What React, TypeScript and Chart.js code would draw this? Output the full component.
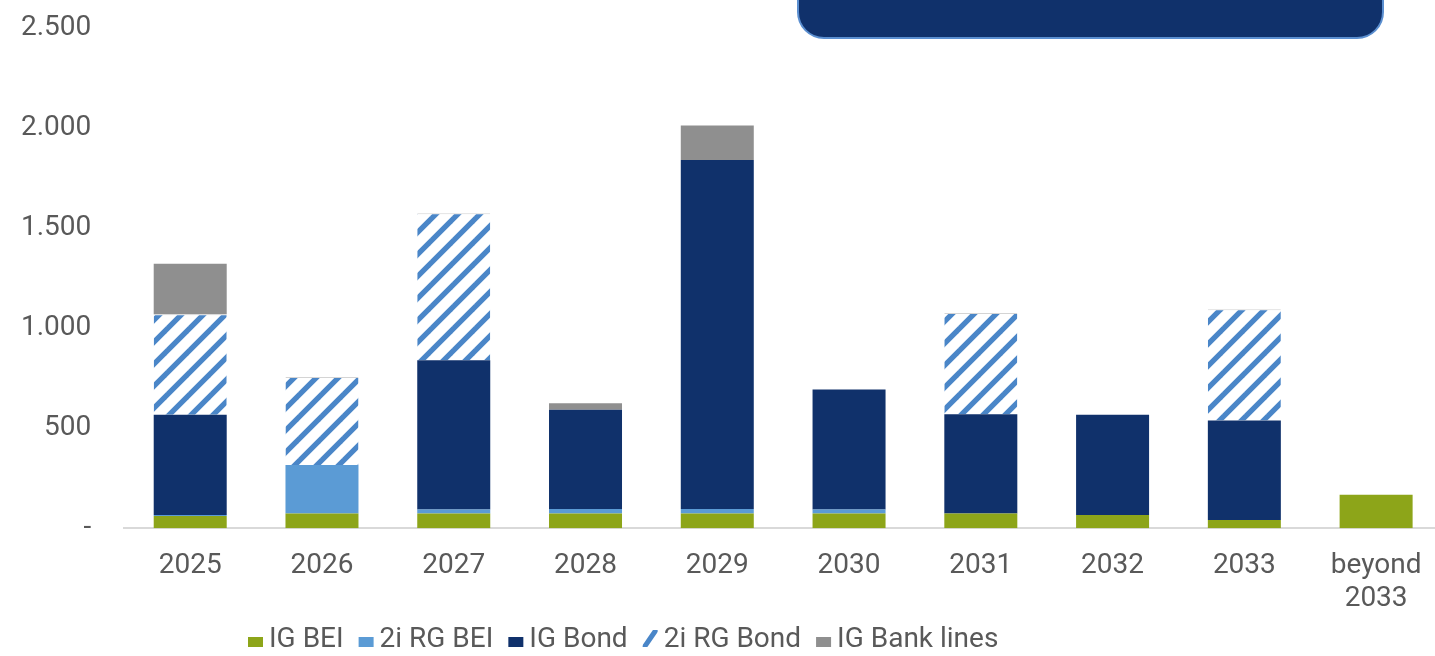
import React, { useEffect, useRef } from 'react';
import { Chart, registerables } from 'chart.js';

Chart.register(...registerables);

// ---- data ----
const categories: (string | string[])[] = ['2025', '2026', '2027', '2028', '2029', '2030', '2031', '2032', '2033', ['beyond', '2033']];
const igBei = [62, 74, 74, 74, 74, 74, 74, 66, 41, 167];
const rgBei = [5, 242, 20, 22, 22, 20, 0, 0, 0, 0];
const igBond = [500, 0, 746, 496, 1744, 599, 496, 501, 498, 0];
const rgBond = [502, 440, 734, 0, 0, 0, 505, 0, 555, 0];
const bankLines = [252, 0, 0, 33, 172, 0, 0, 0, 0, 0];
const seriesLabels = ['IG BEI', '2i RG BEI', 'IG Bond', '2i RG Bond', 'IG Bank lines'];
const yMax = 2500;
const yStep = 500;

const FONT = 'Roboto, "Noto Sans", sans-serif';
const TEXT = '#595959';
const HATCH_BLUE = '#4A86C8';

const SHIFT_X = 32; // canvas is placed this many px left of the page edge
const SHIFT_Y = 22; // and this many px above the page top
const CW = 1483;
const CH = 656 + SHIFT_Y;

function fmt(v: number): string {
  if (v === 0) return '-';
  return String(v).replace(/\B(?=(\d{3})+(?!\d))/g, '.');
}

function makeHatch(ctx: CanvasRenderingContext2D): CanvasPattern | string {
  const P = 22;
  const c = document.createElement('canvas');
  c.width = P;
  c.height = P;
  const g = c.getContext('2d');
  if (!g) return HATCH_BLUE;
  g.fillStyle = '#ffffff';
  g.fillRect(0, 0, P, P);
  g.strokeStyle = HATCH_BLUE;
  g.lineWidth = 7.5 / Math.SQRT2;
  g.lineCap = 'square';
  for (let k = -1; k <= 1; k++) {
    g.beginPath();
    g.moveTo(k * P - 2, P + 2);
    g.lineTo(k * P + P + 2, -2);
    g.stroke();
  }
  return ctx.createPattern(c, 'repeat') || HATCH_BLUE;
}

const legendPlugin = {
  id: 'customLegend',
  afterDraw(chart: any) {
    const ctx: CanvasRenderingContext2D = chart.ctx;
    ctx.save();
    ctx.font = `28px ${FONT}`;
    ctx.textBaseline = 'alphabetic';
    ctx.textAlign = 'left';
    const baseline = 647 + SHIFT_Y;
    let x = 248 + SHIFT_X;
    chart.data.datasets.forEach((ds: any) => {
      const boxW = 15;
      if (ds.hatch) {
        ctx.save();
        ctx.beginPath();
        ctx.rect(x, baseline - 17, boxW, 17);
        ctx.clip();
        ctx.strokeStyle = HATCH_BLUE;
        ctx.lineWidth = 5;
        ctx.beginPath();
        ctx.moveTo(x + 1, baseline + 1);
        ctx.lineTo(x + 14, baseline - 18);
        ctx.stroke();
        ctx.restore();
      } else {
        ctx.fillStyle = ds.backgroundColor;
        ctx.fillRect(x, baseline - 10, boxW, 10);
      }
      ctx.fillStyle = TEXT;
      const tx = x + boxW + 6;
      ctx.fillText(ds.label, tx, baseline);
      x = tx + ctx.measureText(ds.label).width + 15;
    });
    ctx.restore();
  },
};

const boxPlugin = {
  id: 'topBox',
  afterDraw(chart: any) {
    const ctx: CanvasRenderingContext2D = chart.ctx;
    ctx.save();
    ctx.beginPath();
    (ctx as any).roundRect(798 + SHIFT_X, -40 + SHIFT_Y, 585, 78, 26);
    ctx.fillStyle = '#10316B';
    ctx.fill();
    ctx.lineWidth = 2;
    ctx.strokeStyle = '#5B8FD0';
    ctx.stroke();
    ctx.restore();
  },
};

export default function App() {
  const ref = useRef<HTMLCanvasElement | null>(null);

  useEffect(() => {
    const canvas = ref.current;
    if (!canvas) return;
    const ctx = canvas.getContext('2d');
    if (!ctx) return;
    const hatch = makeHatch(ctx);
    const chart = new Chart(canvas, {
      type: 'bar',
      data: {
        labels: categories as any,
        datasets: [
          { label: seriesLabels[0], data: igBei, backgroundColor: '#8DA519' },
          { label: seriesLabels[1], data: rgBei, backgroundColor: '#5B9BD5' },
          { label: seriesLabels[2], data: igBond, backgroundColor: '#10316B' },
          {
            label: seriesLabels[3],
            data: rgBond,
            backgroundColor: hatch as any,
            borderColor: '#D4D4D4',
            borderWidth: { top: 1, left: 0, right: 0, bottom: 0 },
            hatch: true,
          } as any,
          { label: seriesLabels[4], data: bankLines, backgroundColor: '#8F8F8F' },
        ],
      },
      options: {
        responsive: false,
        animation: false,
        devicePixelRatio: 1,
        datasets: {
          bar: { barPercentage: 1, categoryPercentage: 0.554, borderWidth: 0 },
        },
        layout: { padding: { left: 20, right: 9, top: 3, bottom: 19.5 } },
        plugins: {
          legend: { display: false },
          tooltip: { enabled: false },
        },
        scales: {
          x: {
            stacked: true,
            grid: { display: false, drawTicks: false },
            border: { display: true, color: '#D9D9D9', width: 2 },
            ticks: {
              color: TEXT,
              font: { family: FONT, size: 28 },
              padding: 20.5,
              maxRotation: 0,
              autoSkip: false,
            },
          },
          y: {
            stacked: true,
            min: 0,
            max: yMax,
            grid: { display: false, drawTicks: false },
            border: { display: false },
            ticks: {
              stepSize: yStep,
              color: TEXT,
              font: { family: FONT, size: 28 },
              padding: 33,
              callback: (v: any) => fmt(Number(v)),
            },
          },
        },
      },
      plugins: [legendPlugin, boxPlugin],
    });
    return () => chart.destroy();
  }, []);

  return (
    <div style={{ position: 'absolute', left: 0, top: 0, width: 1435, height: 656, overflow: 'hidden', background: '#fff' }}>
      <canvas ref={ref} width={CW} height={CH} style={{ display: 'block', position: 'absolute', left: -SHIFT_X, top: -SHIFT_Y, width: CW, height: CH }} />
    </div>
  );
}
